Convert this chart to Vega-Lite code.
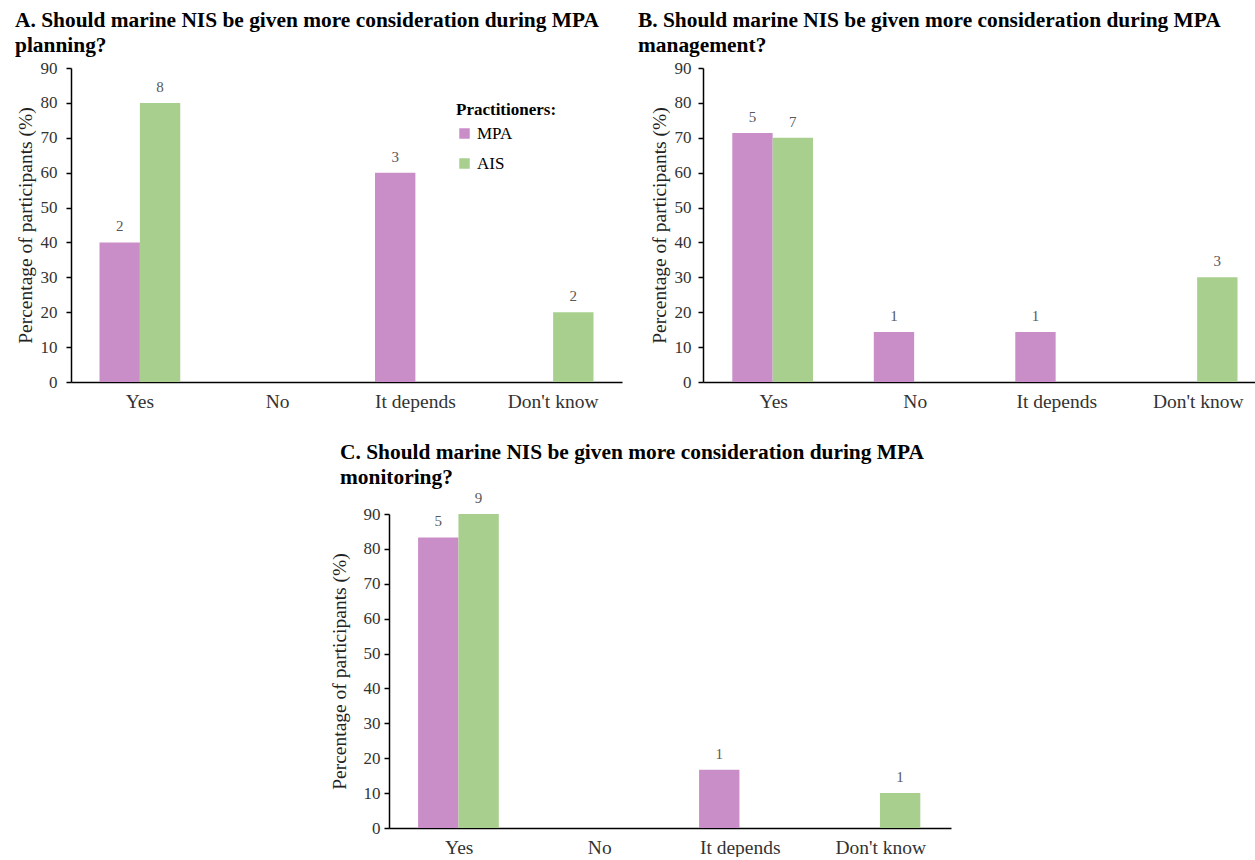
{
  "$schema": "https://vega.github.io/schema/vega-lite/v6.json",
  "padding": {"left": 15, "top": 9, "right": 0, "bottom": 0},
  "background": "white",
  "data": {"values": [
    {"panel": "A", "answer": "Yes", "group": "MPA", "pct": 40, "n": 2},
    {"panel": "A", "answer": "Yes", "group": "AIS", "pct": 80, "n": 8},
    {"panel": "A", "answer": "It depends", "group": "MPA", "pct": 60, "n": 3},
    {"panel": "A", "answer": "Don't know", "group": "AIS", "pct": 20, "n": 2},
    {"panel": "B", "answer": "Yes", "group": "MPA", "pct": 71.4, "n": 5},
    {"panel": "B", "answer": "Yes", "group": "AIS", "pct": 70, "n": 7},
    {"panel": "B", "answer": "No", "group": "MPA", "pct": 14.3, "n": 1},
    {"panel": "B", "answer": "It depends", "group": "MPA", "pct": 14.3, "n": 1},
    {"panel": "B", "answer": "Don't know", "group": "AIS", "pct": 30, "n": 3},
    {"panel": "C", "answer": "Yes", "group": "MPA", "pct": 83.3, "n": 5},
    {"panel": "C", "answer": "Yes", "group": "AIS", "pct": 90, "n": 9},
    {"panel": "C", "answer": "It depends", "group": "MPA", "pct": 16.7, "n": 1},
    {"panel": "C", "answer": "Don't know", "group": "AIS", "pct": 10, "n": 1}
  ]},
  "config": {
    "font": "Liberation Serif",
    "view": {"stroke": null},
    "title": {"font": "Liberation Serif", "fontSize": 21.4, "fontWeight": "bold", "color": "black", "anchor": "start", "lineHeight": 25, "frame": "bounds"},
    "axis": {"labelFont": "Liberation Serif", "titleFont": "Liberation Serif", "domainColor": "black", "domainWidth": 1.5, "labelColor": "#333333", "titleColor": "#222222", "titleFontWeight": "normal", "grid": false},
    "axisX": {"ticks": false, "labelFontSize": 19.5, "labelPadding": 10, "labelAngle": 0},
    "axisY": {"ticks": true, "tickSize": 5, "tickColor": "black", "tickWidth": 1.5, "labelFontSize": 17, "labelPadding": 7, "titleFontSize": 19.5, "titlePadding": 5},
    "legend": {"labelFont": "Liberation Serif", "titleFont": "Liberation Serif"}
  },
  "vconcat": [
    {
      "hconcat": [
        {
          "title": {"text": ["A. Should marine NIS be given more consideration during MPA", "planning?"], "offset": 3},
          "width": 551,
          "height": 314,
          "transform": [{"filter": "datum.panel == 'A'"}],
          "encoding": {
            "x": {"field": "answer", "type": "nominal", "sort": ["Yes", "No", "It depends", "Don't know"], "scale": {"domain": ["Yes", "No", "It depends", "Don't know"], "paddingInner": 0.414, "paddingOuter": 0.207}, "axis": {"title": null}},
            "xOffset": {"field": "group", "type": "nominal", "scale": {"domain": ["MPA", "AIS"]}},
            "y": {"field": "pct", "type": "quantitative", "scale": {"domain": [0, 90]}, "axis": {"values": [0, 10, 20, 30, 40, 50, 60, 70, 80, 90], "title": "Percentage of participants (%)", "labelPadding": 9}}
          },
          "layer": [
            {"mark": {"type": "bar"}, "encoding": {"color": {"field": "group", "type": "nominal", "scale": {"domain": ["MPA", "AIS"], "range": ["#C98EC8", "#A9CF8E"]}, "legend": {"orient": "none", "legendX": 385, "legendY": 34, "title": "Practitioners:", "titleFontSize": 17, "titleFontWeight": "bold", "titleColor": "black", "labelFontSize": 17, "labelColor": "black", "symbolType": "square", "symbolSize": 110, "symbolStrokeWidth": 0, "rowPadding": 12, "titlePadding": 6}}}},
            {"mark": {"type": "text", "baseline": "bottom", "dy": -8, "fontSize": 15, "color": "#595959"}, "encoding": {"text": {"field": "n", "type": "quantitative"}}}
          ]
        },
        {
          "title": {"text": ["B. Should marine NIS be given more consideration during MPA", "management?"], "offset": 3, "dx": -11},
          "width": 566,
          "height": 314,
          "transform": [{"filter": "datum.panel == 'B'"}],
          "encoding": {
            "x": {"field": "answer", "type": "nominal", "sort": ["Yes", "No", "It depends", "Don't know"], "scale": {"domain": ["Yes", "No", "It depends", "Don't know"], "paddingInner": 0.414, "paddingOuter": 0.207}, "axis": {"title": null}},
            "xOffset": {"field": "group", "type": "nominal", "scale": {"domain": ["MPA", "AIS"]}},
            "y": {"field": "pct", "type": "quantitative", "scale": {"domain": [0, 90]}, "axis": {"values": [0, 10, 20, 30, 40, 50, 60, 70, 80, 90], "title": "Percentage of participants (%)"}}
          },
          "layer": [
            {"mark": {"type": "bar"}, "encoding": {"color": {"field": "group", "type": "nominal", "scale": {"domain": ["MPA", "AIS"], "range": ["#C98EC8", "#A9CF8E"]}, "legend": null}}},
            {"mark": {"type": "text", "baseline": "bottom", "dy": -8, "fontSize": 15, "color": "#595959"}, "encoding": {"text": {"field": "n", "type": "quantitative"}}}
          ]
        }
      ],
      "spacing": 16,
      "resolve": {"scale": {"color": "independent"}, "legend": {"color": "independent"}}
    },
    {
      "title": {"text": ["C. Should marine NIS be given more consideration during MPA", "monitoring?"], "offset": 3, "dx": 11},
      "width": 562,
      "height": 314,
      "transform": [{"filter": "datum.panel == 'C'"}],
      "encoding": {
        "x": {"field": "answer", "type": "nominal", "sort": ["Yes", "No", "It depends", "Don't know"], "scale": {"domain": ["Yes", "No", "It depends", "Don't know"], "paddingInner": 0.414, "paddingOuter": 0.207}, "axis": {"title": null}},
        "xOffset": {"field": "group", "type": "nominal", "scale": {"domain": ["MPA", "AIS"]}},
        "y": {"field": "pct", "type": "quantitative", "scale": {"domain": [0, 90]}, "axis": {"values": [0, 10, 20, 30, 40, 50, 60, 70, 80, 90], "title": "Percentage of participants (%)", "titlePadding": 14, "labelPadding": 4}}
      },
      "layer": [
        {"mark": {"type": "bar"}, "encoding": {"color": {"field": "group", "type": "nominal", "scale": {"domain": ["MPA", "AIS"], "range": ["#C98EC8", "#A9CF8E"]}, "legend": null}}},
        {"mark": {"type": "text", "baseline": "bottom", "dy": -8, "fontSize": 15, "color": "#595959"}, "encoding": {"text": {"field": "n", "type": "quantitative"}}}
      ]
    }
  ],
  "spacing": 30,
  "center": true,
  "resolve": {"scale": {"color": "independent"}, "legend": {"color": "independent"}}
}
